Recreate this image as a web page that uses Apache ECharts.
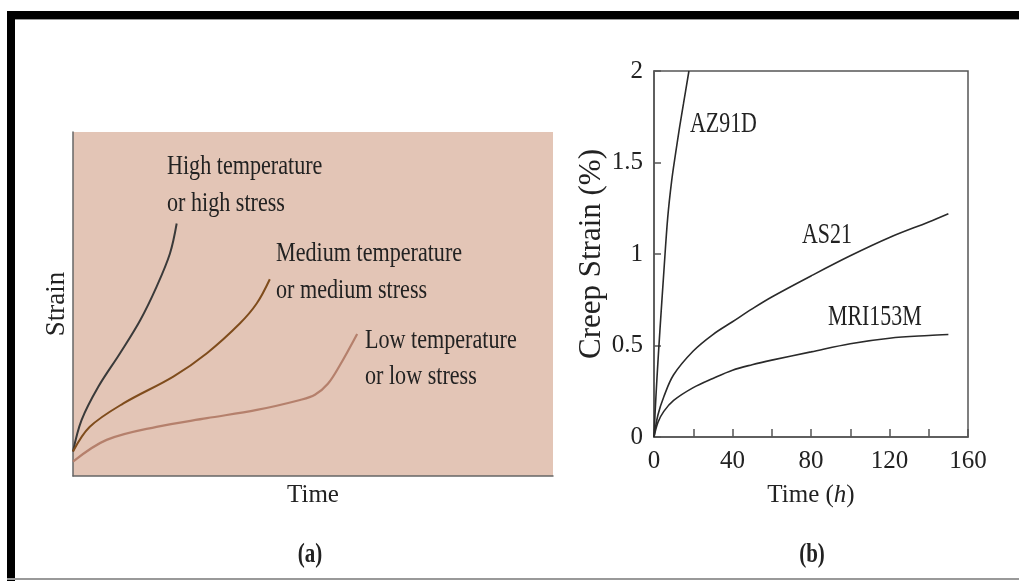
<!DOCTYPE html>
<html>
<head>
<meta charset="utf-8">
<style>
html,body{margin:0;padding:0;background:#fff;}
#chart{width:1019px;height:581px;}
</style>
<script src="https://cdn.jsdelivr.net/npm/echarts@6/dist/echarts.min.js"></script>
</head>
<body>
<div id="chart"></div>
<script>
// ---------- Panel (a): schematic creep curves (arbitrary units 0-100) ----------
const highX = [0, 1.8, 5.3, 9.8, 14.0, 17.4, 20.2, 21.6];
const highY = [7.1, 16.3, 26.0, 35.7, 45.3, 55.0, 64.7, 73.4];
const medX  = [0, 3.5, 10.5, 20.9, 27.9, 34.8, 38.3, 41.0];
const medY  = [7.1, 14.3, 21.1, 28.9, 35.7, 44.4, 50.2, 57.2];
const lowX  = [0, 7.0, 17.4, 27.9, 38.3, 47.3, 50.4, 53.1, 55.6, 59.2];
const lowY  = [4.2, 10.5, 14.3, 16.8, 19.2, 22.1, 23.6, 26.8, 32.2, 41.3];

// ---------- Panel (b): creep strain (%) vs time (h) ----------
const az91dT = [0, 0.5, 1.5, 3, 5, 7, 9, 11, 13, 15, 17.8];
const az91dS = [0, 0.12, 0.32, 0.58, 0.9, 1.2, 1.4, 1.55, 1.69, 1.82, 2.0];
const as21T  = [0, 2, 5, 10, 20, 30, 40, 50, 60, 80, 100, 120, 140, 150];
const as21S  = [0, 0.12, 0.22, 0.34, 0.47, 0.56, 0.63, 0.70, 0.765, 0.88, 0.99, 1.09, 1.175, 1.22];
const mriT   = [0, 2, 5, 10, 20, 30, 40, 50, 60, 80, 100, 120, 140, 150];
const mriS   = [0, 0.08, 0.14, 0.2, 0.27, 0.32, 0.365, 0.395, 0.42, 0.465, 0.51, 0.54, 0.555, 0.56];

const xTicksB = [0, 40, 80, 120, 160];

const zip = (a, b) => a.map((v, i) => [v, b[i]]);
const FONT = 'Liberation Serif, Times New Roman, serif';
const TXT = '#222';

function label(x, y, text, size, sx, opts) {
  return Object.assign({
    type: 'text', x: x, y: y, scaleX: sx, silent: true,
    style: { text: text, fill: TXT, font: size + 'px ' + FONT, textVerticalAlign: 'middle', textAlign: 'left' }
  }, opts || {});
}

const lineA = (x, y, color, w) => ({
  type: 'line', xAxisIndex: 0, yAxisIndex: 0, data: zip(x, y), smooth: 0.35,
  showSymbol: false, lineStyle: { color: color, width: w }
});
const lineB = (x, y) => ({
  type: 'line', xAxisIndex: 1, yAxisIndex: 1, data: zip(x, y), smooth: 0.35,
  showSymbol: false, lineStyle: { color: '#2a2a2a', width: 1.6 }
});

const chart = echarts.init(document.getElementById('chart'));
chart.setOption({
  animation: false,
  backgroundColor: '#fff',
  grid: [
    { left: 73, top: 132, width: 480, height: 344, show: true, backgroundColor: '#e3c5b6', borderWidth: 0, containLabel: false },
    { left: 654, top: 71, width: 314, height: 366, show: true, backgroundColor: 'transparent', borderColor: '#555', borderWidth: 1.5, containLabel: false }
  ],
  xAxis: [
    { gridIndex: 0, type: 'value', min: 0, max: 100,
      axisLine: { show: true, lineStyle: { color: '#666', width: 1.5 } },
      axisTick: { show: false }, axisLabel: { show: false }, splitLine: { show: false },
      name: 'Time', nameLocation: 'middle', nameGap: 7,
      nameTextStyle: { fontFamily: FONT, fontSize: 25, color: TXT } },
    { gridIndex: 1, type: 'value', min: 0, max: 160, interval: 20,
      axisLine: { show: true, lineStyle: { color: '#555', width: 1.5 } },
      axisTick: { show: true, inside: true, length: 8, lineStyle: { color: '#555', width: 1.5 } },
      axisLabel: { margin: 12, fontFamily: FONT, fontSize: 25, color: TXT,
        formatter: v => (xTicksB.indexOf(v) >= 0 ? String(v) : '') },
      splitLine: { show: false },
      name: '{a|Time (}{i|h}{a|)}', nameLocation: 'middle', nameGap: 46,
      nameTextStyle: { rich: {
        a: { fontFamily: FONT, fontSize: 25, color: TXT },
        i: { fontFamily: FONT, fontSize: 25, color: TXT, fontStyle: 'italic' } } } }
  ],
  yAxis: [
    { gridIndex: 0, type: 'value', min: 0, max: 100,
      axisLine: { show: true, lineStyle: { color: '#666', width: 1.5 } },
      axisTick: { show: false }, axisLabel: { show: false }, splitLine: { show: false },
      name: 'Strain', nameLocation: 'middle', nameGap: 3,
      nameTextStyle: { fontFamily: FONT, fontSize: 27, color: TXT } },
    { gridIndex: 1, type: 'value', min: 0, max: 2, interval: 0.5,
      axisLine: { show: true, lineStyle: { color: '#555', width: 1.5 } },
      axisTick: { show: true, inside: true, length: 7, lineStyle: { color: '#555', width: 1.5 } },
      axisLabel: { margin: 11, fontFamily: FONT, fontSize: 25, color: TXT },
      splitLine: { show: false },
      name: 'Creep Strain (%)', nameLocation: 'middle', nameGap: 40,
      nameTextStyle: { fontFamily: FONT, fontSize: 31, color: TXT } }
  ],
  series: [
    lineA(highX, highY, '#3a3a3a', 2),
    lineA(medX, medY, '#7f4c1c', 2),
    lineA(lowX, lowY, '#b5806c', 2.2),
    lineB(az91dT, az91dS),
    lineB(as21T, as21S),
    lineB(mriT, mriS)
  ],
  graphic: [
    // frame
    { type: 'rect', shape: { x: 7, y: 11, width: 1012, height: 8 }, style: { fill: '#000' }, silent: true },
    { type: 'rect', shape: { x: 7, y: 19, width: 1012, height: 1 }, style: { fill: '#999' }, silent: true },
    { type: 'rect', shape: { x: 7, y: 11, width: 8, height: 570 }, style: { fill: '#000' }, silent: true },
    { type: 'rect', shape: { x: 7, y: 578, width: 1012, height: 2 }, style: { fill: '#999' }, silent: true },
    // panel (a) annotations
    label(167, 167, 'High temperature', 28, 0.79),
    label(167, 204, 'or high stress', 28, 0.79),
    label(276, 254, 'Medium temperature', 28, 0.79),
    label(276, 291, 'or medium stress', 28, 0.79),
    label(365, 341, 'Low temperature', 28, 0.79),
    label(365, 377, 'or low stress', 28, 0.79),
    // panel (b) annotations
    label(690, 124, 'AZ91D', 30, 0.73),
    label(802, 235, 'AS21', 30, 0.73),
    label(828, 317, 'MRI153M', 30, 0.73),
    // captions
    { type: 'text', x: 310, y: 555, scaleX: 0.75, silent: true,
      style: { text: '(a)', fill: '#222', font: 'bold 28px ' + FONT, textAlign: 'center', textVerticalAlign: 'middle' } },
    { type: 'text', x: 812, y: 555, scaleX: 0.75, silent: true,
      style: { text: '(b)', fill: '#222', font: 'bold 28px ' + FONT, textAlign: 'center', textVerticalAlign: 'middle' } }
  ]
});
</script>
</body>
</html>
